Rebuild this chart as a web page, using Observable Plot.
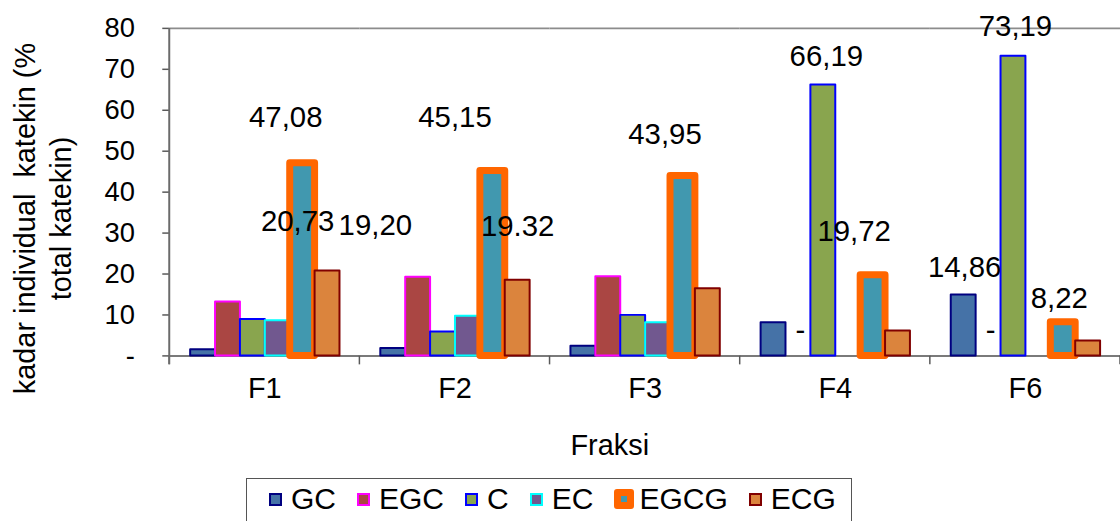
<!DOCTYPE html>
<html>
<head>
<meta charset="utf-8">
<script src="https://cdn.jsdelivr.net/npm/d3@7"></script>
<script src="https://cdn.jsdelivr.net/npm/@observablehq/plot@0.6"></script>
<style>
  html, body { margin: 0; padding: 0; background: #fff; width: 1120px; height: 521px; overflow: hidden; }
  body { font-family: "Liberation Sans", Arial, sans-serif; position: relative; }
  #chart svg { display: block; }
  #legend {
    position: absolute; left: 246px; top: 478px; width: 606px; height: 60px;
    border: 1.5px solid #555; box-sizing: border-box;
    display: flex; align-items: flex-start; padding: 5px 0 0 22px;
    font-size: 30px; color: #000;
  }
  #legend .item { display: flex; align-items: center; margin-right: 21px; height: 30px; }
  #legend .sw { box-sizing: border-box; width: 13px; height: 13px; border: 2px solid; margin-right: 9px; }
  #legend .sw.thick { width: 20px; height: 20px; border-width: 7px; border-radius: 3px; margin-right: 5px; }
</style>
</head>
<body>
<div id="chart"></div>
<div id="legend"></div>
<script>
// Catechin fractions and the individual catechins measured in each
const fraksi = ["F1", "F2", "F3", "F4", "F6"];
const series = ["GC", "EGC", "C", "EC", "EGCG", "ECG"];

// Individual catechin content (% of total catechin), one value per fraction
const GC   = [1.5, 1.8, 2.35, 8.1, 14.86];
const EGC  = [13.15, 19.20, 19.32, 0, 0];
const C    = [8.9, 5.85, 9.9, 66.19, 73.19];
const EC   = [8.6, 9.7, 8.1, 0, 0];
const EGCG = [47.08, 45.15, 43.95, 19.72, 8.22];
const ECG  = [20.73, 18.5, 16.4, 6.1, 3.65];

// Y axis ticks and their printed labels (zero shown as a dash)
const yTicks = [0, 10, 20, 30, 40, 50, 60, 70, 80];
const yTickLabels = ["-", "10", "20", "30", "40", "50", "60", "70", "80"];

// Data labels printed on the chart
const labelFraksi = ["F1", "F2", "F3", "F1", "F2", "F3", "F4", "F6", "F4", "F6", "F6", "F4", "F6"];
const labelSeries = ["EGCG", "EGCG", "EGCG", "ECG", "EGC", "EGC", "EGCG", "EGCG", "C", "C", "GC", "EGC", "EGC"];
const labelText   = ["47,08", "45,15", "43,95", "20,73", "19,20", "19.32", "19,72", "8,22", "66,19", "73,19", "14,86", "-", "-"];

// Label nudges (px) relative to the top-centre of their bar
const labelNudge = [[-17, -46], [-38, -54], [-18, -42], [-30, -50], [-43, -52], [-91, -50],
                    [-19, -44], [-4, -24], [3, -28], [2, -30], [1, -28], [2, -25], [2, -25]];

const valuesBySeries = {GC, EGC, C, EC, EGCG, ECG};
const fills   = {GC: "#4572A7", EGC: "#AA4643", C: "#89A54E", EC: "#71588F", EGCG: "#4198AF", ECG: "#DB843D"};
const strokes = {GC: "#000080", EGC: "#FF00FF", C: "#0000FF", EC: "#00FFFF", EGCG: "#FF6600", ECG: "#800000"};

const rows = fraksi.flatMap((f, i) => series.map(s => ({fraksi: f, series: s, value: valuesBySeries[s][i]})));
const valueOf = (f, s) => valuesBySeries[s][fraksi.indexOf(f)];

const FONT = "'Liberation Sans', Arial, sans-serif";
const W = 1125, H = 470, ML = 170, MT = 28, MB = 113;

const labelMarks = labelText.map((t, i) => Plot.text(
  [{fraksi: labelFraksi[i], series: labelSeries[i], value: valueOf(labelFraksi[i], labelSeries[i]), text: t}],
  {fx: "fraksi", x: "series", y: "value", text: "text", fontSize: 29.5, fill: "#000",
   dx: labelNudge[i][0], dy: labelNudge[i][1]}
));

const plot = Plot.plot({
  width: W, height: H,
  marginLeft: ML, marginRight: 0, marginTop: MT, marginBottom: MB,
  style: {fontFamily: FONT, background: "#fff", overflow: "visible"},
  fx: {domain: fraksi, padding: 0, label: null},
  x: {domain: series, paddingInner: 0, paddingOuter: 0.75, axis: null},
  y: {domain: [0, 80], label: null},
  color: {type: "identity"},
  marks: [
    Plot.ruleY([80], {stroke: "#8c8c8c", strokeWidth: 2}),
    Plot.ruleY([0], {stroke: "#7a7a7a", strokeWidth: 2}),
    Plot.barY(rows.filter(d => d.value > 0), {
      fx: "fraksi", x: "series", y: "value",
      fill: d => fills[d.series], stroke: d => strokes[d.series],
      strokeWidth: d => d.series === "EGCG" ? 7 : 2,
      strokeLinejoin: "round"
    }),
    ...labelMarks,
    Plot.axisY({ticks: yTicks, tickFormat: d => yTickLabels[yTicks.indexOf(d)],
      tickSize: 7, tickPadding: 28, fontSize: 27.5, stroke: "#595959", strokeWidth: 1.5,
      color: "#000", label: null}),
    Plot.axisFx({anchor: "bottom", tickSize: 0, tickPadding: 22, fontSize: 29, color: "#000", label: null})
  ]
});

document.getElementById("chart").appendChild(plot);

// Axis lines, category boundary ticks and titles, placed with the plot's scales
const svg = d3.select(plot);
const fxS = plot.scale("fx"), yS = plot.scale("y");
const bw = fxS.bandwidth;
const x0 = fxS.apply(fraksi[0]);
const yTop = yS.apply(80), yBase = yS.apply(0);
const bounds = fraksi.map(f => fxS.apply(f)).concat([fxS.apply(fraksi[fraksi.length - 1]) + bw]);

svg.append("g").selectAll("line").data(bounds).join("line")
  .attr("x1", d => d).attr("x2", d => d)
  .attr("y1", yBase).attr("y2", yBase + 9)
  .attr("stroke", "#595959").attr("stroke-width", 1.5);

svg.append("line")
  .attr("x1", x0).attr("x2", x0).attr("y1", yTop).attr("y2", yBase + 9)
  .attr("stroke", "#6b6b6b").attr("stroke-width", 2);

const yMid = (yTop + yBase) / 2;
const yTitle = svg.append("g").attr("font-family", FONT).attr("font-size", 29).attr("fill", "#000").attr("text-anchor", "middle");
yTitle.append("text").attr("transform", `translate(35,${yMid + 27}) rotate(-90)`).text("kadar individual  katekin (%");
yTitle.append("text").attr("transform", `translate(71,${yMid + 27}) rotate(-90)`).text("total katekin)");

svg.append("text")
  .attr("x", (x0 + fxS.apply(fraksi[fraksi.length - 1]) + bw) / 2 - 35)
  .attr("y", yBase + 100)
  .attr("font-family", FONT).attr("font-size", 29).attr("fill", "#000").attr("text-anchor", "middle")
  .text("Fraksi");

// Legend
const legend = d3.select("#legend");
series.forEach(s => {
  const item = legend.append("div").attr("class", "item");
  item.append("div").attr("class", s === "EGCG" ? "sw thick" : "sw")
    .style("background", fills[s]).style("border-color", strokes[s]);
  item.append("span").text(s);
});
</script>
</body>
</html>
